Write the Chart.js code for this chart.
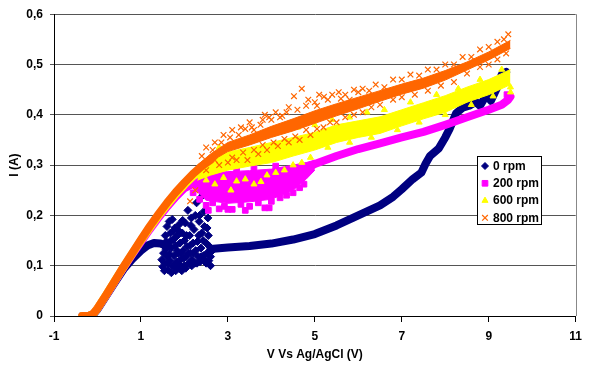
<!DOCTYPE html>
<html>
<head>
<meta charset="utf-8">
<script src="https://cdn.jsdelivr.net/npm/chart.js@4.4.1/dist/chart.umd.min.js"></script>
<style>
  html, body { margin: 0; padding: 0; background: #fff; }
  #wrap { width: 589px; height: 369px; }
</style>
</head>
<body>
<div id="wrap"><canvas id="myChart" width="589" height="369"></canvas></div>
<script>
// values: [V, I]
const seriesNames = ['0 rpm', '200 rpm', '600 rpm', '800 rpm'];
const yTickLabels = ['0', '0,1', '0,2', '0,3', '0,4', '0,5', '0,6'];

// 0 rpm
const navyRise = [[-0.35, 0], [-0.2, 0], [-0.1, 0.003], [0, 0.013], [0.2, 0.04], [0.4, 0.067], [0.6, 0.093],
  [0.8, 0.113], [1.0, 0.13], [1.15, 0.14], [1.3, 0.145], [1.45, 0.144], [1.6, 0.139]];
const navyTail = [[2.6, 0.133], [3.0, 0.136], [3.5, 0.139], [4.0, 0.144], [4.5, 0.152], [5.0, 0.163], [5.5, 0.18],
  [6.0, 0.2], [6.5, 0.22], [6.8, 0.237], [7.0, 0.252], [7.25, 0.272], [7.45, 0.285], [7.55, 0.303], [7.65, 0.318],
  [7.85, 0.333], [8.0, 0.355], [8.1, 0.372], [8.25, 0.403], [8.4, 0.414], [8.55, 0.418], [8.7, 0.426], [8.8, 0.418],
  [8.95, 0.44], [9.05, 0.428], [9.2, 0.455], [9.3, 0.48], [9.4, 0.485]];
const navyCloud = [[1.48, 0.112], [1.5, 0.098], [1.52, 0.125], [1.55, 0.105], [1.56, 0.16], [1.58, 0.132], [1.6, 0.118],
  [1.6, 0.178], [1.62, 0.092], [1.64, 0.145], [1.65, 0.188], [1.67, 0.11], [1.68, 0.165], [1.7, 0.086], [1.7, 0.135],
  [1.72, 0.192], [1.73, 0.1], [1.75, 0.152], [1.76, 0.12], [1.78, 0.175], [1.8, 0.09], [1.8, 0.14], [1.82, 0.108],
  [1.84, 0.16], [1.85, 0.125], [1.87, 0.095], [1.88, 0.182], [1.9, 0.145], [1.92, 0.113], [1.94, 0.09], [1.95, 0.165],
  [1.97, 0.13], [2.0, 0.1], [2.0, 0.15], [2.02, 0.185], [2.04, 0.118], [2.06, 0.138], [2.08, 0.21], [2.1, 0.105],
  [2.12, 0.16], [2.14, 0.125], [2.16, 0.195], [2.18, 0.112], [2.2, 0.145], [2.22, 0.172], [2.24, 0.105], [2.26, 0.13],
  [2.28, 0.225], [2.3, 0.148], [2.32, 0.118], [2.34, 0.188], [2.36, 0.108], [2.38, 0.135], [2.4, 0.165], [2.42, 0.24],
  [2.44, 0.12], [2.46, 0.178], [2.48, 0.112], [2.5, 0.145], [2.52, 0.125], [2.54, 0.195], [2.56, 0.11], [2.58, 0.138],
  [2.6, 0.118], [2.62, 0.128], [1.58, 0.148], [1.66, 0.123], [1.74, 0.168], [1.9, 0.102], [2.05, 0.16], [2.25, 0.2],
  [2.45, 0.208], [1.52, 0.14], [1.54, 0.09], [1.62, 0.105], [1.69, 0.15], [1.77, 0.098], [1.83, 0.13], [1.86, 0.17],
  [1.93, 0.125], [1.99, 0.115], [2.03, 0.095], [2.09, 0.125], [2.13, 0.14], [2.17, 0.1], [2.21, 0.125], [2.29, 0.105],
  [2.33, 0.16], [2.39, 0.118], [2.43, 0.15], [2.5, 0.105], [2.55, 0.16], [2.6, 0.1], [2.35, 0.2], [2.15, 0.18],
  [1.96, 0.19], [2.52, 0.175]];

// 200 rpm
const magentaRise = [[-0.35, 0], [-0.2, 0], [-0.1, 0.004], [0, 0.015], [0.2, 0.041], [0.4, 0.069], [0.6, 0.096],
  [0.8, 0.122], [1.0, 0.147], [1.2, 0.172], [1.4, 0.195], [1.6, 0.217], [1.8, 0.237], [2.0, 0.254], [2.25, 0.265]];
const magentaUpper = [[2.2, 0.27], [2.5, 0.285], [3.0, 0.287], [3.5, 0.289], [4.0, 0.292], [4.5, 0.3], [4.8, 0.305], [5.0, 0.31]];
const magentaLower = [[2.2, 0.255], [2.5, 0.23], [3.0, 0.224], [3.5, 0.227], [4.0, 0.232], [4.5, 0.25], [4.8, 0.272], [5.0, 0.29]];
const magentaLine = [[4.9, 0.298], [5.0, 0.302], [5.5, 0.318], [6.0, 0.332], [6.5, 0.343], [7.0, 0.355], [7.5, 0.366],
  [8.0, 0.38], [8.5, 0.395], [9.0, 0.41], [9.3, 0.42], [9.45, 0.43], [9.5, 0.436]];
const magentaPts = [[2.35, 0.232], [2.5, 0.22], [2.65, 0.225], [2.8, 0.213], [2.92, 0.218], [3.1, 0.212], [3.3, 0.222],
  [3.5, 0.218], [3.7, 0.225], [3.85, 0.215], [4.0, 0.228], [4.2, 0.235], [4.35, 0.24], [4.5, 0.245], [4.65, 0.255],
  [4.75, 0.262], [2.4, 0.282], [2.7, 0.29], [3.2, 0.292], [3.6, 0.295], [4.1, 0.298], [9.42, 0.44], [2.55, 0.21],
  [3.0, 0.212], [3.4, 0.21], [3.95, 0.215], [2.2, 0.245]];

// 600 rpm
const yellowRise = [[-0.35, 0], [-0.2, 0], [-0.1, 0.004], [0, 0.015], [0.2, 0.042], [0.4, 0.07], [0.6, 0.097],
  [0.8, 0.124], [1.0, 0.15], [1.2, 0.175], [1.4, 0.199], [1.6, 0.221], [1.8, 0.242], [2.0, 0.261], [2.2, 0.278], [2.4, 0.29]];
const yellowUpper = [[2.3, 0.3], [2.6, 0.31], [3.0, 0.326], [3.5, 0.335], [4.0, 0.345], [4.5, 0.355], [5.0, 0.365],
  [5.5, 0.38], [6.0, 0.388], [6.5, 0.396], [7.0, 0.41], [7.5, 0.424], [8.0, 0.438], [8.5, 0.455], [9.0, 0.47], [9.5, 0.49]];
const yellowLower = [[2.3, 0.27], [2.6, 0.28], [3.0, 0.29], [3.5, 0.298], [4.0, 0.305], [4.5, 0.318], [5.0, 0.33],
  [5.5, 0.345], [6.0, 0.355], [6.5, 0.363], [7.0, 0.378], [7.5, 0.392], [8.0, 0.405], [8.5, 0.425], [9.0, 0.44], [9.5, 0.46]];
const yellowPts = [[2.5, 0.27], [2.7, 0.262], [2.9, 0.275], [3.07, 0.25], [3.2, 0.268], [3.4, 0.272], [3.6, 0.262],
  [3.76, 0.267], [3.9, 0.28], [4.1, 0.285], [4.3, 0.29], [4.5, 0.3], [4.7, 0.305], [4.9, 0.315], [2.8, 0.335],
  [3.3, 0.345], [3.8, 0.36], [4.2, 0.37], [4.6, 0.375], [5.0, 0.38], [5.4, 0.39], [5.8, 0.395], [6.2, 0.405],
  [6.6, 0.41], [7.2, 0.425], [7.8, 0.44], [8.3, 0.452], [8.8, 0.47], [9.3, 0.49], [5.3, 0.335], [5.8, 0.345],
  [6.3, 0.355], [6.9, 0.37], [7.4, 0.385], [8.0, 0.4], [8.6, 0.42], [9.1, 0.437], [9.5, 0.455], [9.5, 0.445]];

// 800 rpm
const orangeRise = [[-0.35, 0], [-0.2, 0], [-0.1, 0.004], [0, 0.015], [0.2, 0.042], [0.4, 0.07], [0.6, 0.098],
  [0.8, 0.125], [1.0, 0.152], [1.2, 0.178], [1.4, 0.202], [1.6, 0.225], [1.8, 0.246], [2.0, 0.265], [2.2, 0.283],
  [2.4, 0.298], [2.6, 0.31]];
const orangeUpper = [[2.3, 0.3], [2.6, 0.322], [3.0, 0.345], [3.5, 0.36], [4.0, 0.377], [4.5, 0.392], [5.0, 0.408],
  [5.5, 0.422], [6.0, 0.435], [6.5, 0.448], [7.0, 0.461], [7.5, 0.473], [8.0, 0.488], [8.5, 0.505], [9.0, 0.525], [9.5, 0.548]];
const orangeLower = [[2.3, 0.287], [2.6, 0.307], [3.0, 0.327], [3.5, 0.34], [4.0, 0.355], [4.5, 0.368], [5.0, 0.383],
  [5.5, 0.398], [6.0, 0.412], [6.5, 0.427], [7.0, 0.441], [7.5, 0.453], [8.0, 0.469], [8.5, 0.489], [9.0, 0.509], [9.5, 0.532]];
const orangePts = [[2.5, 0.335], [2.7, 0.345], [2.9, 0.36], [3.1, 0.37], [3.3, 0.375], [3.5, 0.385], [3.6, 0.37],
  [3.8, 0.39], [3.95, 0.395], [4.1, 0.405], [4.25, 0.398], [4.4, 0.415], [4.52, 0.437], [4.7, 0.452], [4.85, 0.43],
  [5.0, 0.425], [5.1, 0.44], [5.21, 0.436], [5.4, 0.44], [5.55, 0.445], [5.7, 0.44], [5.9, 0.45], [6.1, 0.452],
  [6.4, 0.46], [6.8, 0.47], [7.2, 0.48], [7.6, 0.49], [8.0, 0.5], [8.4, 0.515], [8.8, 0.53], [9.2, 0.545], [9.45, 0.56],
  [2.13, 0.228], [2.25, 0.25], [2.5, 0.29], [2.8, 0.3], [3.0, 0.305], [3.2, 0.31], [3.45, 0.31], [3.7, 0.322],
  [3.9, 0.33], [4.15, 0.338], [4.4, 0.345], [4.65, 0.35], [4.9, 0.36], [5.2, 0.375], [5.5, 0.385], [5.9, 0.4],
  [6.3, 0.415], [6.8, 0.43], [7.3, 0.44], [7.9, 0.458], [8.5, 0.482], [9.0, 0.5], [9.4, 0.522],
  [2.4, 0.318], [2.65, 0.33], [2.85, 0.345], [3.05, 0.355], [3.25, 0.36], [3.4, 0.372], [3.55, 0.375], [3.75, 0.38],
  [3.85, 0.4], [4.0, 0.39], [4.2, 0.395], [4.35, 0.405], [4.6, 0.41], [4.8, 0.418], [5.05, 0.418], [5.3, 0.43],
  [5.6, 0.432], [5.8, 0.43], [6.0, 0.445], [6.25, 0.448], [6.6, 0.455], [7.0, 0.47], [7.4, 0.478], [7.8, 0.49],
  [8.2, 0.5], [8.6, 0.515], [9.0, 0.535], [9.35, 0.55], [2.7, 0.31], [3.1, 0.315], [3.35, 0.325], [3.6, 0.33],
  [3.8, 0.34], [4.05, 0.345], [4.3, 0.352], [4.55, 0.357], [4.8, 0.37], [5.05, 0.372], [5.35, 0.385], [5.7, 0.395],
  [6.1, 0.405], [6.5, 0.42], [7.0, 0.435], [7.6, 0.448], [8.2, 0.465], [8.8, 0.495], [9.2, 0.51]];

const NAVY = '#000080', MAGENTA = '#FF00FF', YELLOW = '#FFFF00', ORANGE = '#FF6600';
const FONT = "'Liberation Sans', Arial, sans-serif";

const pts = arr => arr.map(p => ({ x: p[0], y: p[1] }));

function trace(arr, color, order) {
  return { type: 'line', data: pts(arr), borderColor: color, backgroundColor: color, borderWidth: 8,
    borderCapStyle: 'round', borderJoinStyle: 'round', pointRadius: 0, fill: false, order: order };
}
function band(arr, color, order, fill) {
  return { type: 'line', data: pts(arr), borderColor: color, backgroundColor: color, borderWidth: 1,
    pointRadius: 0, fill: fill, order: order };
}
function cloud(arr, color, style, radius, order) {
  const cross = style === 'crossRot';
  return { data: pts(arr), pointStyle: style, pointRadius: radius, borderWidth: cross ? 1.2 : 1,
    borderColor: color, backgroundColor: color, order: order };
}

const legendItems = [
  { color: NAVY, style: 'rectRot', radius: 3.5 },
  { color: MAGENTA, style: 'rect', radius: 4 },
  { color: YELLOW, style: 'triangle', radius: 3.5 },
  { color: ORANGE, style: 'crossRot', radius: 4 }
];

const boxPlugin = {
  id: 'boxPlugin',
  beforeDatasetsDraw(chart) {
    const { ctx, chartArea: a } = chart;
    ctx.save();
    ctx.strokeStyle = '#888';
    ctx.lineWidth = 1;
    ctx.beginPath();
    ctx.moveTo(Math.round(a.right) + 0.5, a.top);
    ctx.lineTo(Math.round(a.right) + 0.5, a.bottom);
    ctx.stroke();
    ctx.restore();
  },
  afterDraw(chart) {
    const ctx = chart.ctx;
    ctx.save();
    ctx.fillStyle = '#fff';
    ctx.strokeStyle = '#000';
    ctx.lineWidth = 1;
    ctx.fillRect(477.5, 156.5, 64, 68);
    ctx.strokeRect(477.5, 156.5, 64, 68);
    const rows = [166, 183.3, 200.6, 217.8];
    legendItems.forEach((it, i) => {
      ctx.fillStyle = it.color;
      ctx.strokeStyle = it.color;
      ctx.lineWidth = it.style === 'crossRot' ? 1.2 : 1;
      Chart.helpers.drawPoint(ctx, { pointStyle: it.style, radius: it.radius, rotation: 0, borderWidth: 1 }, 485, rows[i]);
      ctx.fillStyle = '#000';
      ctx.font = 'bold 12px ' + FONT;
      ctx.textBaseline = 'middle';
      ctx.textAlign = 'left';
      ctx.fillText(seriesNames[i], 493, rows[i] + 0.5);
    });
    ctx.restore();
  }
};

const ctx = document.getElementById('myChart').getContext('2d');
const myChart = new Chart(ctx, {
  type: 'scatter',
  data: {
    datasets: [
      trace(navyRise, NAVY, 50),
      trace(navyTail, NAVY, 50),
      cloud(navyCloud, NAVY, 'rectRot', 4, 49),
      trace(magentaRise, MAGENTA, 40),
      band(magentaUpper, MAGENTA, 40, '+1'),
      band(magentaLower, MAGENTA, 40, false),
      trace(magentaLine, MAGENTA, 40),
      cloud(magentaPts, MAGENTA, 'rect', 4, 39),
      trace(yellowRise, YELLOW, 30),
      band(yellowUpper, YELLOW, 30, '+1'),
      band(yellowLower, YELLOW, 30, false),
      cloud(yellowPts, YELLOW, 'triangle', 3.5, 29),
      trace(orangeRise, ORANGE, 20),
      band(orangeUpper, ORANGE, 20, '+1'),
      band(orangeLower, ORANGE, 20, false),
      cloud(orangePts, ORANGE, 'crossRot', 4, 19)
    ]
  },
  options: {
    responsive: false,
    animation: false,
    events: [],
    layout: { padding: { left: 0, right: 7, top: 10, bottom: 0 } },
    plugins: { legend: { display: false }, tooltip: { enabled: false } },
    scales: {
      x: {
        type: 'linear', min: -1, max: 11,
        afterFit: s => { s.height = 53; },
        ticks: { stepSize: 2, color: '#000', padding: 7, font: { family: FONT, size: 12, weight: 'bold' } },
        grid: { drawOnChartArea: false, drawTicks: true, tickLength: 6, color: '#000' },
        border: { color: '#000', width: 1 },
        title: { display: true, text: 'V Vs Ag/AgCl (V)', color: '#000', padding: { top: 0, bottom: 7 },
          font: { family: FONT, size: 12, weight: 'bold' } }
      },
      y: {
        min: 0, max: 0.6,
        afterFit: s => { s.width = 54; },
        ticks: { stepSize: 0.1, color: '#000', padding: 7, font: { family: FONT, size: 12, weight: 'bold' },
          callback: (v, i) => yTickLabels[i] },
        grid: { color: '#555', tickLength: 4 },
        border: { color: '#000', width: 1 },
        title: { display: true, text: 'I (A)', color: '#000', padding: { top: 7, bottom: 0 },
          font: { family: FONT, size: 12, weight: 'bold' } }
      }
    }
  },
  plugins: [boxPlugin]
});
</script>
</body>
</html>
